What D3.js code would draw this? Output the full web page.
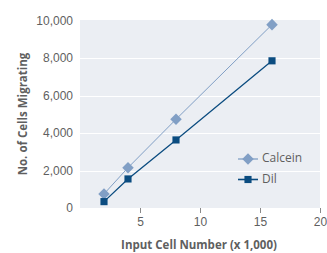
<!DOCTYPE html>
<html>
<head>
<meta charset="utf-8">
<script src="https://cdn.jsdelivr.net/npm/d3@7"></script>
<style>
  body { margin: 0; background: #fff; }
  svg { display: block; font-family: "Open Sans", "Noto Sans", sans-serif; }
</style>
</head>
<body>
<div id="chart"></div>
<script>
// chart data
const inputCells = [2, 4, 8, 16];
const calcein = [750, 2150, 4730, 9780];
const dil = [340, 1550, 3630, 7850];
const xTicks = [5, 10, 15, 20];
const yTicks = [0, 2000, 4000, 6000, 8000, 10000];

const series = [
    { name: "Calcein", values: calcein, color: "#819fc5", shape: d3.symbolDiamond2, size: 85, lineWidth: 1 },
    { name: "Dil", values: dil, color: "#0b4c80", shape: d3.symbolSquare2, size: 65, lineWidth: 1.3 }
];

const width = 327, height = 253;
const marginLeft = 80, marginRight = 7, marginTop = 20, marginBottom = 45;

const svg = d3.select("#chart").append("svg")
    .attr("width", width)
    .attr("height", height);

const x = d3.scaleLinear().domain([0, 20]).range([marginLeft, width - marginRight]);
const y = d3.scaleLinear().domain([0, 10000]).range([height - marginBottom, marginTop + 0.5]);

// plot background
svg.append("rect")
    .attr("x", marginLeft)
    .attr("y", marginTop)
    .attr("width", width - marginRight - marginLeft)
    .attr("height", height - marginBottom - marginTop)
    .attr("fill", "#ebeef3");

// gridlines
svg.append("g")
    .selectAll("line")
    .data(yTicks.filter(d => d > 0 && d < 10000))
    .enter().append("line")
    .attr("x1", marginLeft)
    .attr("x2", width - marginRight)
    .attr("y1", d => Math.round(y(d)) + 0.5)
    .attr("y2", d => Math.round(y(d)) + 0.5)
    .attr("stroke", "#fff")
    .attr("stroke-width", 1.2);

// y axis labels
svg.append("g")
    .attr("transform", `translate(${marginLeft - 7},0)`)
    .call(d3.axisLeft(y).tickValues(yTicks).tickSize(0).tickFormat(d3.format(",")))
    .call(g => g.select(".domain").remove())
    .call(g => g.selectAll("text")
        .attr("fill", "#5f5f5f")
        .attr("font-size", "12px")
        .attr("x", 0));

// x axis
svg.append("g")
    .attr("transform", `translate(0,${height - marginBottom})`)
    .call(d3.axisBottom(x).tickValues(xTicks).tickSize(5).tickPadding(4))
    .call(g => g.select(".domain").remove())
    .call(g => g.selectAll("line").attr("stroke", "#8a8a8a"))
    .call(g => g.selectAll("text")
        .attr("fill", "#5f5f5f")
        .attr("font-size", "12px"));

// axis titles
svg.append("text")
    .attr("transform", `translate(24,${(marginTop + height - marginBottom) / 2}) rotate(-90)`)
    .attr("text-anchor", "middle")
    .attr("dominant-baseline", "middle")
    .attr("font-size", "11.5px")
    .attr("font-weight", "bold")
    .attr("fill", "#5f5f5f")
    .text("No. of Cells Migrating");

svg.append("text")
    .attr("x", 199)
    .attr("y", 249)
    .attr("text-anchor", "middle")
    .attr("font-size", "11.5px")
    .attr("font-weight", "bold")
    .attr("fill", "#5f5f5f")
    .text("Input Cell Number (x 1,000)");

// lines and markers
const line = d3.line()
    .x((d, i) => x(inputCells[i]))
    .y(d => y(d));

series.forEach(function(s) {
    svg.append("path")
        .attr("d", line(s.values))
        .attr("fill", "none")
        .attr("stroke", s.color)
        .attr("stroke-width", s.lineWidth);

    svg.append("g")
        .selectAll("path")
        .data(s.values)
        .enter().append("path")
        .attr("transform", (d, i) => `translate(${x(inputCells[i])},${y(d)})`)
        .attr("d", d3.symbol().type(s.shape).size(s.size))
        .attr("fill", s.color);
});

// legend
const legend = svg.append("g");
series.forEach(function(s, i) {
    const ly = 159 + i * 20.5;
    legend.append("line")
        .attr("x1", 238).attr("x2", 258)
        .attr("y1", ly).attr("y2", ly)
        .attr("stroke", s.color)
        .attr("stroke-width", s.lineWidth + 0.3);
    legend.append("path")
        .attr("transform", `translate(248,${ly})`)
        .attr("d", d3.symbol().type(s.shape).size(s.size))
        .attr("fill", s.color);
    legend.append("text")
        .attr("x", 262)
        .attr("y", ly)
        .attr("dominant-baseline", "middle")
        .attr("font-size", "12px")
        .attr("fill", "#5f5f5f")
        .text(s.name);
});
</script>
</body>
</html>
